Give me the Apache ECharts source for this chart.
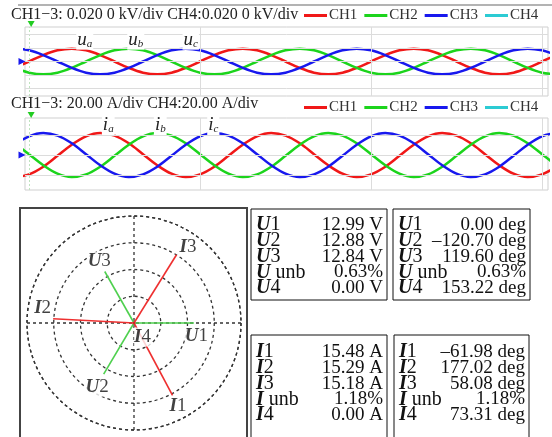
<!DOCTYPE html>
<html><head><meta charset="utf-8">
<script src="https://cdn.jsdelivr.net/npm/echarts@6/dist/echarts.min.js"></script>
<style>html,body{margin:0;padding:0;background:#fff}#c{width:552px;height:437px}</style>
</head><body><div id="c"></div>
<script>
// ---- data ----
// time (ms), one sample per 30 degrees of a 20 ms cycle
const t = [-1.67,0,1.67,3.33,5,6.67,8.33,10,11.67,13.33,15,16.67,18.33,20,21.67,23.33,25,26.67,28.33,30,31.67,33.33,35,36.67,38.33,40,41.67,43.33,45,46.67,48.33,50,51.67,53.33,55,56.67,58.33,60,61.67];
// phase voltages (V)
const ua = [-9.5, 0,9.5,16.5,19,16.5,9.5,0,-9.5,-16.5,-19,-16.5,-9.5, 0,9.5,16.5,19,16.5,9.5,0,-9.5,-16.5,-19,-16.5,-9.5, 0,9.5,16.5,19,16.5,9.5,0,-9.5,-16.5,-19,-16.5,-9.5, 0,9.5];
const ub = [-9.5, -16.5,-19,-16.5,-9.5,0,9.5,16.5,19,16.5,9.5,0,-9.5, -16.5,-19,-16.5,-9.5,0,9.5,16.5,19,16.5,9.5,0,-9.5, -16.5,-19,-16.5,-9.5,0,9.5,16.5,19,16.5,9.5,0,-9.5, -16.5,-19];
const uc = [19, 16.5,9.5,0,-9.5,-16.5,-19,-16.5,-9.5,0,9.5,16.5,19, 16.5,9.5,0,-9.5,-16.5,-19,-16.5,-9.5,0,9.5,16.5,19, 16.5,9.5,0,-9.5,-16.5,-19,-16.5,-9.5,0,9.5,16.5,19, 16.5,9.5];
// phase currents (A)
const ia = [-22.0, -19.4,-11.7,-0.8,10.3,18.7,22.0,19.4,11.7,0.8,-10.3,-18.7,-22.0, -19.4,-11.7,-0.8,10.3,18.7,22.0,19.4,11.7,0.8,-10.3,-18.7,-22.0, -19.4,-11.7,-0.8,10.3,18.7,22.0,19.4,11.7,0.8,-10.3,-18.7,-22.0, -19.4,-11.7];
const ib = [11.7, 0.8,-10.3,-18.7,-22.0,-19.4,-11.7,-0.8,10.3,18.7,22.0,19.4,11.7, 0.8,-10.3,-18.7,-22.0,-19.4,-11.7,-0.8,10.3,18.7,22.0,19.4,11.7, 0.8,-10.3,-18.7,-22.0,-19.4,-11.7,-0.8,10.3,18.7,22.0,19.4,11.7, 0.8,-10.3];
const ic = [10.3, 18.7,22.0,19.4,11.7,0.8,-10.3,-18.7,-22.0,-19.4,-11.7,-0.8,10.3, 18.7,22.0,19.4,11.7,0.8,-10.3,-18.7,-22.0,-19.4,-11.7,-0.8,10.3, 18.7,22.0,19.4,11.7,0.8,-10.3,-18.7,-22.0,-19.4,-11.7,-0.8,10.3, 18.7,22.0];
const chNames = ['CH1','CH2','CH3','CH4'];
const titleTexts = ['CH1\u22123: 0.020 0 kV/div CH4:0.020 0 kV/div', 'CH1\u22123: 20.00 A/div CH4:20.00 A/div'];
const vGridTimes = [0, 20, 40, 60];
const uGridLevels = [-40, -20, 0, 20, 40];
const iGridLevels = [-20, 0, 20];
const uPeakIdx = [4, 8, 12];   // sample index of the labelled peaks
const iPeakIdx = [6, 10, 14];
const uSubs = ['a','b','c'];
// meter readings
const uMag = [12.99, 12.88, 12.84];
const uUnb = 0.63;
const u4Mag = 0.00;
const uAng = [0.00, -120.70, 119.60];
const u4Ang = 153.22;
const iMag = [15.48, 15.29, 15.18];
const iUnb = 1.18;
const i4Mag = 0.00;
const iAng = [-61.98, 177.02, 58.08];
const i4Ang = 73.31;

// ---- styles ----
const SERIF = 'Liberation Serif';
const chColors = ['#f01818', '#1cd41c', '#1818ee', '#2ccbd3'];
const voltsPerRing = 5.8, ampsPerRing = 5.05;
const uLabelDx = [13, 7, 5], iLabelDx = [8, 3, -1];
const phOffsets = {U1:[3,13], U2:[-6,13], U3:[-5,-10], I1:[6,11], I2:[-10,-11], I3:[12,-8], I4:[9,14]};

const pair = (a, b) => a.map((v, i) => [v, b[i]]);
const fmt = v => (v < 0 ? '\u2013' : '') + Math.abs(v).toFixed(2);

const chart = echarts.init(document.getElementById('c'), null, {renderer: 'canvas'});

const tMin = -0.47, tMax = 60.7;
const waveSets = [[ua, ub, uc], [ia, ib, ic]];
const series = [];
[0, 1].forEach(g => {
  waveSets[g].forEach((arr, k) => {
    const idx = (g === 0 ? uPeakIdx : iPeakIdx)[k];
    series.push({
      name: chNames[k], type: 'line', xAxisIndex: g, yAxisIndex: g, clip: true,
      data: pair(t, arr), showSymbol: false, smooth: 0.35, z: 3,
      lineStyle: {color: chColors[k], width: 2.5}, itemStyle: {color: chColors[k]},
      markPoint: {
        symbol: 'circle', symbolSize: 0.1, silent: true,
        data: [{coord: [t[idx], arr[idx]],
          label: {show: true, position: 'inside',
            offset: [(g === 0 ? uLabelDx : iLabelDx)[k], g === 0 ? -9 : -8],
            formatter: '{m|' + (g === 0 ? 'u' : 'i') + '}{s|' + uSubs[k] + '}',
            backgroundColor: '#fff', padding: [0, 1, 0, 1],
            rich: {m: {fontFamily: SERIF, fontStyle: 'italic', fontSize: 19, color: '#222'},
                   s: {fontFamily: SERIF, fontStyle: 'italic', fontSize: 11, color: '#222', verticalAlign: 'bottom', padding: [9, 0, 0, 0]}}}}]
      }
    });
  });
  series.push({name: chNames[3], type: 'line', xAxisIndex: g, yAxisIndex: g, data: [],
    lineStyle: {color: chColors[3], width: 2.5}, itemStyle: {color: chColors[3]}});
  const levels = g === 0 ? uGridLevels : iGridLevels;
  series.push({name: 'grid' + g, type: 'line', xAxisIndex: g, yAxisIndex: g, data: [], z: 1,
    markLine: {silent: true, symbol: 'none', label: {show: false},
      lineStyle: {color: '#dcdcdc', width: 1, type: 'solid'},
      data: vGridTimes.map(v => ({xAxis: v, lineStyle: v === 0 ? {color: '#bfe3bf', type: [2, 2]} : {}}))
        .concat(levels.map(v => ({yAxis: v})))},
    markPoint: {silent: true, label: {show: false},
      data: [
        {coord: [tMin, 0], symbol: 'triangle', symbolRotate: -90, symbolSize: [7, 7], symbolOffset: [-3, 0], itemStyle: {color: '#1818ee'}},
        {coord: [0.25, g === 0 ? 51 : 37], symbol: 'triangle', symbolRotate: 180, symbolSize: [7, 6], symbolOffset: [0, -3], itemStyle: {color: '#22cc22'}}
      ]}
  });
});

// phasors
const phasors = [];
uMag.forEach((m, k) => phasors.push({name: 'U' + (k + 1), r: m / voltsPerRing, a: uAng[k], color: '#4fd04f'}));
iMag.forEach((m, k) => phasors.push({name: 'I' + (k + 1), r: m / ampsPerRing, a: iAng[k], color: '#ee3030'}));
phasors.push({name: 'I4', r: i4Mag / ampsPerRing, a: i4Ang, color: '#ee3030'});
phasors.forEach(p => {
  const ang = (p.a + 360) % 360;
  if (p.r > 0) {
    series.push({name: p.name, type: 'line', coordinateSystem: 'polar', polarIndex: 0,
      data: [[0, ang], [p.r, ang]], showSymbol: false, z: 3,
      lineStyle: {color: p.color, width: 1.6}});
  }
  series.push({name: p.name + 'lbl', type: 'scatter', coordinateSystem: 'polar', polarIndex: 0,
    data: [[p.r, ang]], symbolSize: 1, itemStyle: {color: 'rgba(0,0,0,0)'}, z: 10,
    label: {show: true, position: 'inside', offset: phOffsets[p.name],
      formatter: '{b|' + p.name[0] + '}{n|' + p.name.slice(1) + '}',
      backgroundColor: '#fff', padding: [0, 1, 0, 0],
      rich: {b: {fontFamily: SERIF, fontStyle: 'italic', fontWeight: 'bold', fontSize: 19, color: '#111'},
             n: {fontFamily: SERIF, fontSize: 19, color: '#111'}}}});
});
series.push({name: 'origin', type: 'scatter', coordinateSystem: 'polar', data: [[0, 0]], symbolSize: 3, itemStyle: {color: '#cc2222'}, z: 4});

// tables
const graphics = [
  {type: 'line', shape: {x1: 18, y1: 5, x2: 552, y2: 5}, style: {stroke: '#9a9a9a', lineWidth: 1.5}},
  {type: 'rect', shape: {x: 20, y: 208, width: 227, height: 240}, style: {fill: 'none', stroke: '#444', lineWidth: 2}}
];
const tableRich = {b: {fontFamily: SERIF, fontStyle: 'italic', fontWeight: 'bold', fontSize: 20, fill: '#111', color: '#111'},
                   n: {fontFamily: SERIF, fontSize: 20, fill: '#111', color: '#111'}};
function table(x, y, w, h, sym, values, rowY0) {
  graphics.push({type: 'rect', shape: {x: x, y: y, width: w, height: h}, style: {fill: 'none', stroke: '#111', lineWidth: 1}});
  const labels = ['1', '2', '3', ' unb', '4'];
  labels.forEach((l, i) => {
    const yy = rowY0 + i * 15.8;
    graphics.push({type: 'text', x: x + 5, y: yy, style: {text: '{b|' + sym + '}{n|' + l + '}', rich: tableRich, verticalAlign: 'middle', align: 'left'}, z: 5});
    graphics.push({type: 'text', x: x + w - 4, y: yy, style: {text: values[i], font: '19px ' + SERIF, fill: '#111', verticalAlign: 'middle', align: 'right'}, z: 5});
  });
}
table(251, 209, 136, 91, 'U', uMag.map(v => fmt(v) + ' V').concat([fmt(uUnb) + '%', fmt(u4Mag) + ' V']), 225);
table(393, 209, 137, 91, 'U', uAng.map(v => fmt(v) + ' deg').concat([fmt(uUnb) + '%', fmt(u4Ang) + ' deg']), 225);
table(251, 335, 136, 110, 'I', iMag.map(v => fmt(v) + ' A').concat([fmt(iUnb) + '%', fmt(i4Mag) + ' A']), 352);
table(394, 335, 135, 110, 'I', iAng.map(v => fmt(v) + ' deg').concat([fmt(iUnb) + '%', fmt(i4Ang) + ' deg']), 352);

const dashed = {color: '#333', type: [3, 3], width: 1.3};
const legendBase = {data: chNames, icon: 'rect', itemWidth: 23, itemHeight: 3, itemGap: 7, left: 304, padding: 0,
  textStyle: {fontFamily: SERIF, fontSize: 15, color: '#333', padding: [0, 0, 0, -3]}, selectedMode: false};

chart.setOption({
  animation: false,
  backgroundColor: '#fff',
  title: titleTexts.map((s, i) => ({text: s, left: 11, top: i === 0 ? 7 : 96, padding: 0,
    textStyle: {fontFamily: SERIF, fontSize: 16, fontWeight: 'normal', color: '#222'}})),
  legend: [Object.assign({top: 8}, legendBase), Object.assign({top: 100}, legendBase)],
  grid: [
    {left: 25, top: 27, width: 523, height: 69, show: true, borderColor: '#cfcfcf', borderWidth: 1, backgroundColor: 'transparent'},
    {left: 25, top: 118, width: 523, height: 72, show: true, borderColor: '#cfcfcf', borderWidth: 1, backgroundColor: 'transparent'}
  ],
  xAxis: [0, 1].map(g => ({type: 'value', gridIndex: g, min: tMin, max: tMax,
    axisLine: {show: false}, axisTick: {show: false}, axisLabel: {show: false}, splitLine: {show: false}})),
  yAxis: [
    {type: 'value', gridIndex: 0, min: -51, max: 51, axisLine: {show: false}, axisTick: {show: false}, axisLabel: {show: false}, splitLine: {show: false}},
    {type: 'value', gridIndex: 1, min: -35, max: 37, axisLine: {show: false}, axisTick: {show: false}, axisLabel: {show: false}, splitLine: {show: false}}
  ],
  polar: {center: [134, 323], radius: 107},
  angleAxis: {type: 'value', min: 0, max: 360, interval: 90, startAngle: 0, clockwise: false,
    axisLine: {show: true, lineStyle: dashed}, axisTick: {show: false}, axisLabel: {show: false},
    splitLine: {show: true, lineStyle: dashed}},
  radiusAxis: {type: 'value', min: 0, max: 4, interval: 1,
    axisLine: {show: false}, axisTick: {show: false}, axisLabel: {show: false},
    splitLine: {show: true, lineStyle: dashed}},
  graphic: graphics,
  series: series
});
</script></body></html>
